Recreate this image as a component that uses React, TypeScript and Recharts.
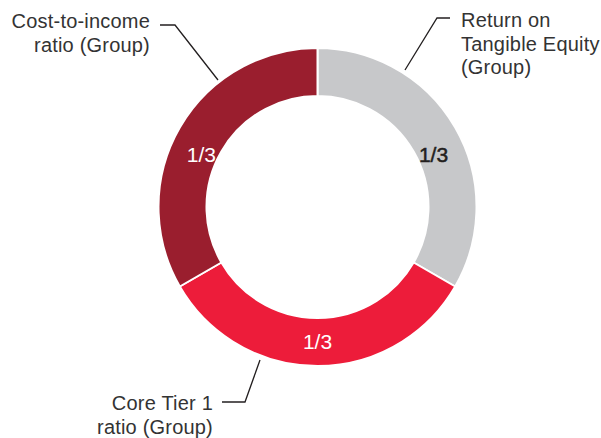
import React from 'react';
import { PieChart, Pie, Cell } from 'recharts';

const categories = ['Return on Tangible Equity (Group)', 'Core Tier 1 ratio (Group)', 'Cost-to-income ratio (Group)'];
const weights = [1, 1, 1];
const valueLabels = ['1/3', '1/3', '1/3'];
const calloutText = [
  ['Return on', 'Tangible Equity', '(Group)'],
  ['Core Tier 1', 'ratio (Group)'],
  ['Cost-to-income', 'ratio (Group)'],
];

const colors = ['#C7C8CA', '#ED1C3A', '#9A1E2E'];
const labelColors = ['#231F20', '#FFFFFF', '#FFFFFF'];

const data = categories.map((name, i) => ({ name, value: weights[i], label: valueLabels[i] }));

// callout geometry relative to pie centre (styling, not data)
const callouts = [
  { pts: [[87.5, -137], [119.5, -189], [132.5, -189]], anchor: 'start', tx: 143.5, ty: -180 },
  { pts: [[-57.5, 153], [-72.5, 195], [-95.5, 195]], anchor: 'end', tx: -104.5, ty: 203 },
  { pts: [[-99.5, -127], [-142.5, -182], [-157.5, -182]], anchor: 'end', tx: -167.5, ty: -179 },
];

const FONT = '"Liberation Sans", Arial, Helvetica, sans-serif';

const renderLabel = (props: any) => {
  const { cx, cy, midAngle, innerRadius, outerRadius, index } = props;
  const RAD = Math.PI / 180;
  const r = (innerRadius + outerRadius) / 2 - 1;
  const s = Math.sin(-midAngle * RAD);
  const x = cx + r * Math.cos(-midAngle * RAD);
  const y = cy + r * s + (s < 0 ? 14 : 0);
  const c = callouts[index];
  const path = c.pts.map((p, i) => `${i === 0 ? 'M' : 'L'}${cx + p[0]},${cy + p[1]}`).join(' ');
  return (
    <g key={`lbl-${index}`}>
      <text x={x} y={y} textAnchor="middle" dominantBaseline="central" fill={labelColors[index]}
        stroke={index === 0 ? labelColors[index] : 'none'} strokeWidth={0.5}
        style={{ fontFamily: FONT, fontSize: 21 }}>
        {data[index].label}
      </text>
      <path d={path} stroke="#231F20" strokeWidth={1.3} fill="none" />
      <text x={cx + c.tx} y={cy + c.ty} textAnchor={c.anchor as any} fill="#333333"
        style={{ fontFamily: FONT, fontSize: 20, letterSpacing: 0.2 }}>
        {calloutText[index].map((t, i) => (
          <tspan key={i} x={cx + c.tx} dy={i === 0 ? 0 : 23.5}>{t}</tspan>
        ))}
      </text>
    </g>
  );
};

export default function App() {
  return (
    <div style={{ position: 'absolute', left: 0, top: 0, width: 601, height: 438, background: '#fff' }}>
      <PieChart width={601} height={438} margin={{ top: 0, right: 0, bottom: 0, left: 0 }}>
        <Pie
          data={data}
          dataKey="value"
          nameKey="name"
          cx={317.5}
          cy={207}
          innerRadius={111}
          outerRadius={159}
          startAngle={90}
          endAngle={-270}
          stroke="#FFFFFF"
          strokeWidth={2}
          label={renderLabel}
          labelLine={false}
          isAnimationActive={false}
        >
          {data.map((d, i) => (
            <Cell key={d.name} fill={colors[i]} />
          ))}
        </Pie>
      </PieChart>
    </div>
  );
}
